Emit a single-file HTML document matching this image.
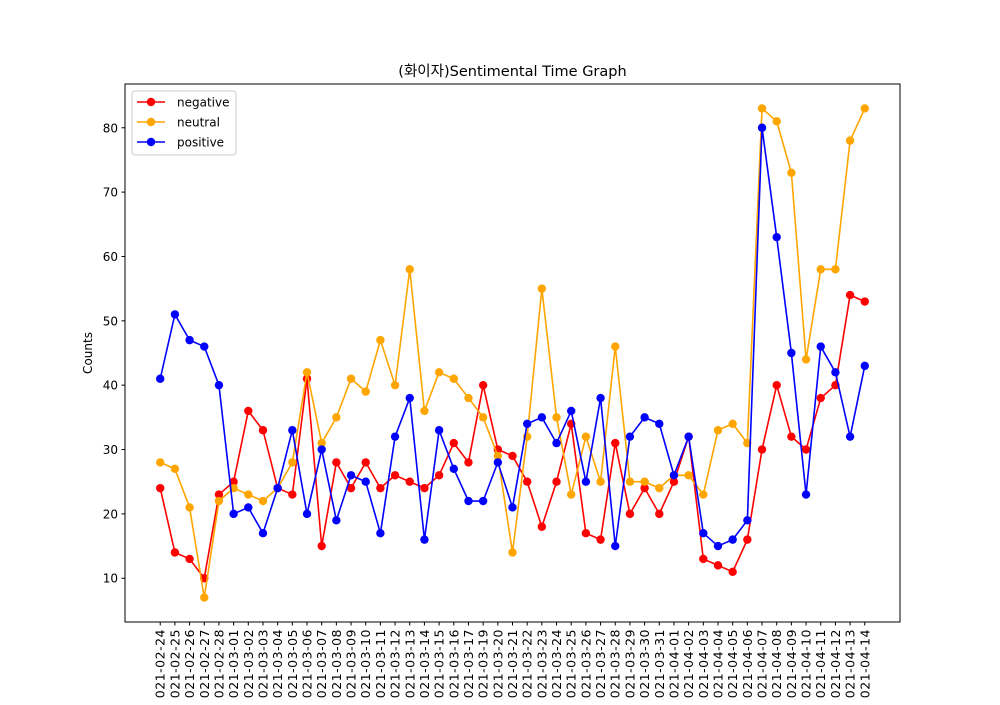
<!DOCTYPE html>
<html><head><meta charset="utf-8"><style>
body{margin:0;background:#fff}
svg{font-family:"DejaVu Sans","Noto Sans CJK KR",sans-serif}
</style></head><body>
<svg id="chart" width="1000" height="700" viewBox="0 0 1000 700" xmlns="http://www.w3.org/2000/svg">
<rect width="1000" height="700" fill="#fff"/>
<text x="512.5" y="76" font-size="14.5" text-anchor="middle">(화이자)Sentimental Time Graph</text>
<text transform="translate(92,353) rotate(-90)" font-size="12" text-anchor="middle">Counts</text>
<g id="plot"></g>
<rect x="125" y="84" width="775" height="538" fill="none" stroke="#000" stroke-width="1"/>
<g id="legend"></g>
</svg>
<script>
const dates=["2021-02-24","2021-02-25","2021-02-26","2021-02-27","2021-02-28","2021-03-01","2021-03-02","2021-03-03","2021-03-04","2021-03-05","2021-03-06","2021-03-07","2021-03-08","2021-03-09","2021-03-10","2021-03-11","2021-03-12","2021-03-13","2021-03-14","2021-03-15","2021-03-16","2021-03-17","2021-03-19","2021-03-20","2021-03-21","2021-03-22","2021-03-23","2021-03-24","2021-03-25","2021-03-26","2021-03-27","2021-03-28","2021-03-29","2021-03-30","2021-03-31","2021-04-01","2021-04-02","2021-04-03","2021-04-04","2021-04-05","2021-04-06","2021-04-07","2021-04-08","2021-04-09","2021-04-10","2021-04-11","2021-04-12","2021-04-13","2021-04-14"];
const negative=[24,14,13,10,23,25,36,33,24,23,41,15,28,24,28,24,26,25,24,26,31,28,40,30,29,25,18,25,34,17,16,31,20,24,20,25,32,13,12,11,16,30,40,32,30,38,40,54,53];
const neutral=[28,27,21,7,22,24,23,22,24,28,42,31,35,41,39,47,40,58,36,42,41,38,35,29,14,32,55,35,23,32,25,46,25,25,24,26,26,23,33,34,31,83,81,73,44,58,58,78,83];
const positive=[41,51,47,46,40,20,21,17,24,33,20,30,19,26,25,17,32,38,16,33,27,22,22,28,21,34,35,31,36,25,38,15,32,35,34,26,32,17,15,16,19,80,63,45,23,46,42,32,43];
const yTicks=[10,20,30,40,50,60,70,80];
const seriesNames=["negative","neutral","positive"];
const seriesColors=["#ff0000","#ffa500","#0000ff"];

const NS="http://www.w3.org/2000/svg";
const L=125,R=900,T=84,B=622;
const all=negative.concat(neutral,positive);
const mn=Math.min(...all),mx=Math.max(...all),m=(mx-mn)*0.05;
const y0=mn-m,y1=mx+m;
const n=dates.length,xm=(n-1)*0.05;
const x=i=>L+(i+xm)/((n-1)+2*xm)*(R-L);
const y=v=>B-(v-y0)/(y1-y0)*(B-T);
const plot=document.getElementById('plot');
function mk(t,a,p){const e=document.createElementNS(NS,t);for(const k in a)e.setAttribute(k,a[k]);(p||plot).appendChild(e);return e;}

yTicks.forEach(v=>{
  const l=mk('line',{x1:L-3.5,x2:L,y1:y(v),y2:y(v),stroke:'#000'});
  
  
  const t=mk('text',{x:L-7,y:y(v)+4.5,'font-size':12,'text-anchor':'end'});
  
  
  t.textContent=v;
});
dates.forEach((d,i)=>{
  const l=mk('line',{x1:x(i),x2:x(i),y1:B,y2:B+3.5,stroke:'#000'});
  
  
  const t=mk('text',{transform:`translate(${x(i)+4.5},${B+7}) rotate(-90)`,'font-size':12.5,'letter-spacing':'0.5','text-anchor':'end'});
  
  
  t.textContent=d;
});
[negative,neutral,positive].forEach((s,k)=>{
  const g=mk('g',{});
  
  
  const p=mk('polyline',{points:s.map((v,i)=>x(i)+','+y(v)).join(' '),fill:'none',stroke:seriesColors[k],'stroke-width':1.6,'stroke-linejoin':'round'},g);
  
  
  s.forEach((v,i)=>{
    const c=mk('circle',{cx:x(i),cy:y(v),r:4.2,fill:seriesColors[k]},g);
    
    
  });
});
const lg=document.getElementById('legend');
const box=mk('rect',{x:132,y:91,width:104,height:64,rx:3,fill:'#fff',stroke:'#ccc'},lg);


seriesNames.forEach((nm,k)=>{
  const yy=102+k*20;
  const g=mk('g',{},lg);
  
  
  mk('line',{x1:137,x2:165,y1:yy,y2:yy,stroke:seriesColors[k],'stroke-width':1.6},g);
  mk('circle',{cx:151,cy:yy,r:4.2,fill:seriesColors[k]},g);
  const t=mk('text',{x:177,y:yy+4.5,'font-size':12},g);
  t.textContent=nm;
});
</script>
</body></html>
